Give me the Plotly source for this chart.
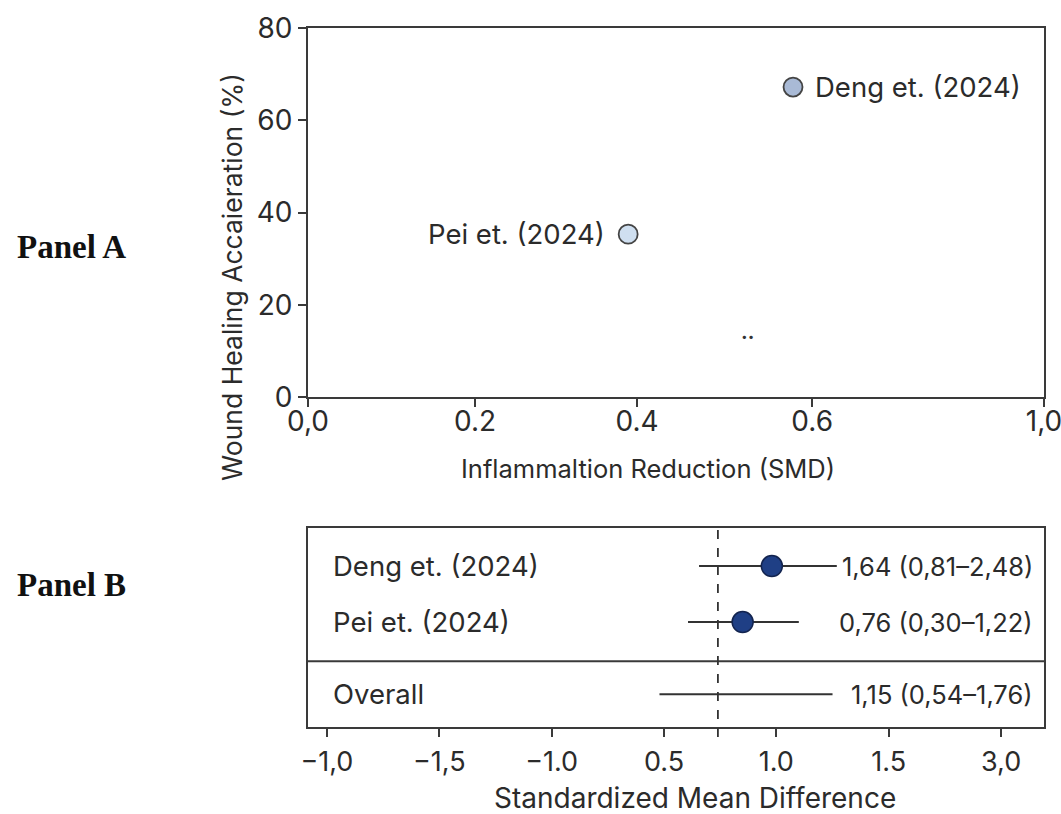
import plotly.graph_objects as go

W, H = 1061, 814

# ---------------- Data ----------------
# Panel A (scatter) - x in axis units as drawn, y in %
studies_a = ["Deng et. (2024)", "Pei et. (2024)"]
infl_reduction = [0.659, 0.435]
wound_healing = [67.2, 35.3]
marker_fill_a = ["#a9bad6", "#cfdff0"]
label_side_a = ["right", "left"]
tick_a_vals = [0.0, 0.227, 0.447, 0.685, 1.0]
tick_a_text = ["0,0", "0.2", "0.4", "0.6", "1,0"]
y_a_ticks = [0, 20, 40, 60, 80]
stray_x, stray_y = 0.597, 14.0

# Panel B (forest plot)
studies_b = ["Deng et. (2024)", "Pei et. (2024)"]
smd_point = [0.98, 0.85]
ci_low = [0.656, 0.607]
ci_high = [1.269, 1.10]
labels_b = ["1,64 (0,81–2,48)", "0,76 (0,30–1,22)"]
overall_name = "Overall"
overall_low, overall_high = 0.48, 1.25
overall_label = "1,15 (0,54–1,76)"
ref_line = 0.74
row_y = [3.0, 2.0]
overall_y = 0.71
divider_y = 1.30
tick_b_vals = [-1.0, -0.5, 0.0, 0.5, 1.0, 1.5, 2.0]
tick_b_text = ["−1,0", "−1,5", "−1.0", "0.5", "1.0", "1.5", "3,0"]

FONT = "Inter, Liberation Sans, Arial, sans-serif"
TXT = "#2b2b2b"
AX = "#3a3a3a"


def f(size, color=TXT, family=FONT):
    return dict(family=family, size=size, color=color)


fig = go.Figure()

# Panel A markers
fig.add_trace(go.Scatter(
    x=infl_reduction, y=wound_healing, mode="markers",
    marker=dict(size=19, color=marker_fill_a, line=dict(color="#444444", width=1.8)),
    xaxis="x", yaxis="y", showlegend=False, cliponaxis=False,
))

# Panel B CI lines
for lo, hi, y in zip(ci_low + [overall_low], ci_high + [overall_high], row_y + [overall_y]):
    fig.add_trace(go.Scatter(
        x=[lo, hi], y=[y, y], mode="lines",
        line=dict(color="#333333", width=2),
        xaxis="x2", yaxis="y2", showlegend=False,
    ))
fig.add_trace(go.Scatter(
    x=smd_point, y=row_y, mode="markers",
    marker=dict(size=21, color="#1f3f85", line=dict(color="#13244f", width=1.5)),
    xaxis="x2", yaxis="y2", showlegend=False,
))

axis_common = dict(showline=True, linecolor=AX, linewidth=2, mirror=True,
                   showgrid=False, zeroline=False, automargin=False,
                   ticklabeloverflow="allow",
                   tickcolor=AX, tickwidth=2, ticklen=8, ticks="outside")

dom_x = [308 / W, 1044 / W]
fig.update_layout(
    width=W, height=H,
    margin=dict(l=0, r=0, t=0, b=0),
    paper_bgcolor="white", plot_bgcolor="white",
    xaxis=dict(domain=dom_x, range=[0, 1], tickvals=tick_a_vals, ticktext=tick_a_text,
               anchor="y", tickfont=f(28), ticklabelstandoff=-10, **axis_common),
    yaxis=dict(domain=[1 - 397 / H, 1 - 28 / H], range=[0, 80], tickvals=y_a_ticks,
               anchor="x", tickfont=f(28), **axis_common),
    xaxis2=dict(domain=dom_x, range=[-1.084, 2.191], tickvals=tick_b_vals, ticktext=tick_b_text,
                anchor="y2", tickfont=f(27), ticklabelstandoff=2, **axis_common),
    yaxis2=dict(domain=[1 - 727 / H, 1 - 528 / H], range=[0.125, 3.68], anchor="x2",
                showline=True, linecolor=AX, linewidth=2, mirror=True, automargin=False,
                showgrid=False, zeroline=False, showticklabels=False, ticks=""),
)

shapes = [
    dict(type="line", xref="x2 domain", yref="y2", x0=0, x1=1, y0=divider_y, y1=divider_y,
         line=dict(color=AX, width=2)),
    dict(type="line", xref="x2", yref="y2 domain", x0=ref_line, x1=ref_line, y0=-0.05, y1=1,
         line=dict(color="#333333", width=1.8, dash="dash")),
]
fig.update_layout(shapes=shapes)

ann = []
# point labels panel A
for name, x, y, side in zip(studies_a, infl_reduction, wound_healing, label_side_a):
    ann.append(dict(text=name, xref="x", yref="y", x=x, y=y, showarrow=False,
                    xanchor="left" if side == "right" else "right", yanchor="middle",
                    xshift=20 if side == "right" else -21, font=f(27.5)))
# axis titles
ann.append(dict(text="Inflammaltion Reduction (SMD)", xref="paper", yref="paper",
                x=648 / W, y=1 - 468 / H, xanchor="center", yanchor="middle",
                showarrow=False, font=f(25.5)))
ann.append(dict(text="Wound Healing Accaieration (%)", xref="paper", yref="paper",
                x=232 / W, y=1 - 277 / H, xanchor="center", yanchor="middle",
                showarrow=False, textangle=-90, font=f(26.5)))
ann.append(dict(text="Standardized Mean Difference", xref="paper", yref="paper",
                x=695 / W, y=1 - 798 / H, xanchor="center", yanchor="middle",
                showarrow=False, font=f(28)))
# stray dots in panel A
ann.append(dict(text="<b>..</b>", xref="x", yref="y", x=stray_x, y=stray_y, showarrow=False,
                xanchor="center", yanchor="middle", font=f(20, "#333333")))
# panel labels
for lab, yy in [("Panel A", 247), ("Panel B", 585)]:
    ann.append(dict(text="<b>%s</b>" % lab, xref="paper", yref="paper", x=15 / W, y=1 - yy / H,
                    xanchor="left", yanchor="middle", showarrow=False,
                    font=f(33, "#111111", "Liberation Serif, Times New Roman, serif")))
# forest labels
for name, lab, y in zip(studies_b + [overall_name], labels_b + [overall_label], row_y + [overall_y]):
    ann.append(dict(text=name, xref="x2", yref="y2", x=-0.98, y=y, xanchor="left",
                    yanchor="middle", showarrow=False, font=f(27.5)))
    ann.append(dict(text=lab, xref="x2", yref="y2", x=2.15, y=y, xanchor="right",
                    yanchor="middle", showarrow=False, font=f(25.5)))
fig.update_layout(annotations=ann)

fig.write_html("out.html", config={"displayModeBar": False},
               post_script="document.body.style.margin='0px';")
